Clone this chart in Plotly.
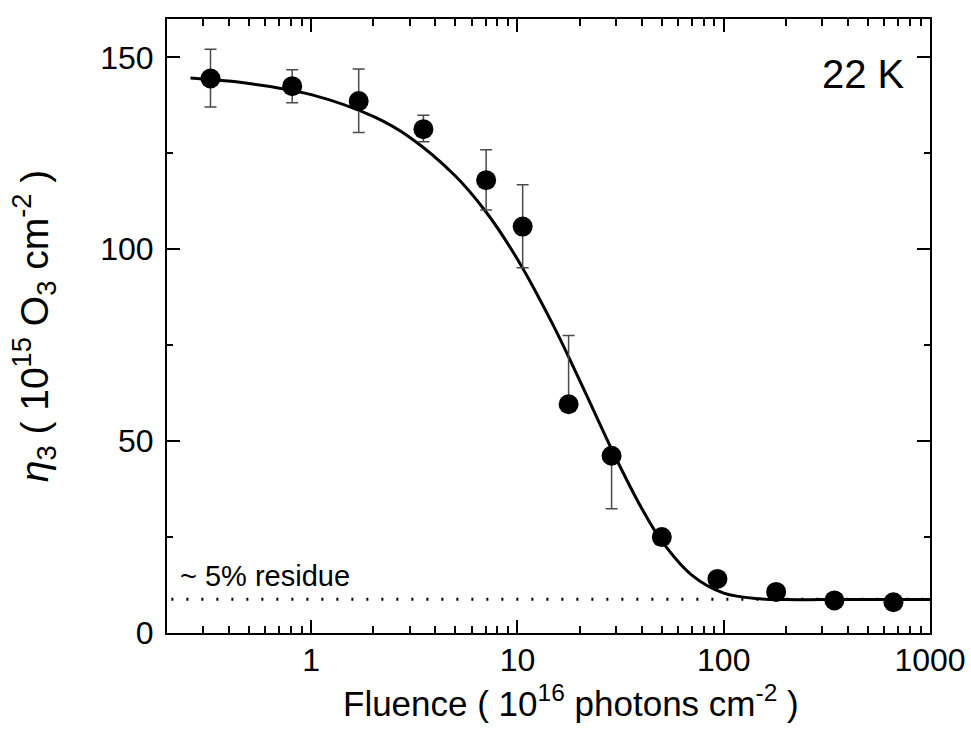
import plotly.graph_objects as go
import math

# Measured data (fluence in 1e16 photons cm^-2, eta3 in 1e15 O3 cm^-2)
fluence = [0.325, 0.809, 1.70, 3.50, 7.05, 10.6, 17.7, 28.6, 50.1, 93.2, 179.5, 344, 665]
eta3 = [144.5, 142.5, 138.6, 131.3, 118.0, 105.9, 59.6, 46.2, 25.0, 14.1, 10.7, 8.5, 8.0]
err_plus = [7.6, 4.3, 8.4, 3.6, 7.9, 10.9, 17.9, 0, 0, 0, 0, 0, 0]
err_minus = [7.4, 4.3, 8.2, 3.3, 7.8, 10.7, 0, 13.8, 0, 0, 0, 0, 0]

# Fit curve
fit_x = [0.26, 0.5, 1, 2, 3, 5, 7, 10, 15, 20, 30, 40, 50, 70, 100, 150, 200, 300, 500, 1000]
fit_y = [144.6, 143.2, 140.3, 134.6, 129.2, 119.1, 109.9, 97.4, 79.9, 65.9, 45.6, 32.5,
         24.0, 15.1, 10.4, 8.9, 8.7, 8.7, 8.7, 8.7]

# Residue level line
residue_x = [0.21, 1000]
residue_y = [8.8, 8.8]

x_tickvals = [1, 10, 100, 1000]
x_ticktext = ["1", "10", "100", "1000"]
y_tickvals = [0, 50, 100, 150]

FONT = "Arial, Liberation Sans, Helvetica, sans-serif"
X_RANGE = [math.log10(0.2), 3]

fig = go.Figure()

fig.add_trace(go.Scatter(
    x=residue_x, y=residue_y, mode="lines",
    line=dict(color="black", width=3, dash="2px,13px"),
    showlegend=False, hoverinfo="skip"))

fig.add_trace(go.Scatter(
    x=fit_x, y=fit_y, mode="lines",
    line=dict(color="black", width=3, shape="spline", smoothing=1.0),
    showlegend=False))

fig.add_trace(go.Scatter(
    x=fluence, y=eta3, mode="markers",
    marker=dict(color="black", size=20, symbol="circle"),
    error_y=dict(type="data", symmetric=False, array=err_plus, arrayminus=err_minus,
                 color="#4a4a4a", thickness=1.5, width=6),
    showlegend=False))

fig.add_annotation(x=0.970, y=0.910, xref="paper", yref="paper", xanchor="right", yanchor="middle",
                   text="22 K", showarrow=False, font=dict(family=FONT, size=40, color="black"))
fig.add_annotation(x=0.015, y=residue_y[0], xref="paper", yref="y", xanchor="left", yanchor="bottom",
                   yshift=5, text="~ 5% residue", showarrow=False,
                   font=dict(family=FONT, size=29, color="black"))
fig.add_annotation(x=0.5295, y=-0.1107, xref="paper", yref="paper", xanchor="center", yanchor="middle",
                   text="Fluence ( 10<sup>16</sup> photons cm<sup>-2</sup> )", showarrow=False,
                   font=dict(family=FONT, size=35, color="black"))

axis_common = dict(
    showline=True, linecolor="black", linewidth=2, mirror="allticks",
    ticks="inside", ticklen=13, tickwidth=2, tickcolor="black",
    showgrid=False, zeroline=False,
    tickfont=dict(family=FONT, size=32, color="black"),
)

fig.update_layout(
    xaxis=dict(type="log", range=X_RANGE,
               tickmode="array", tickvals=x_tickvals, ticktext=x_ticktext,
               minor=dict(ticks="inside", ticklen=7, tickwidth=2, tickcolor="black",
                          dtick="D1", showgrid=False),
               ticklabelstandoff=-2, **axis_common),
    yaxis=dict(range=[0, 160], tickmode="array", tickvals=y_tickvals,
               minor=dict(ticks="inside", ticklen=6, tickwidth=2, tickcolor="black",
                          dtick=25, showgrid=False),
               ticklabelstandoff=5,
               title=dict(text="<i>η</i><sub>3</sub> ( 10<sup>15</sup> O<sub>3</sub> cm<sup>-2</sup> )",
                          font=dict(family=FONT, size=39, color="black"), standoff=40),
               **axis_common),
    width=971, height=739,
    margin=dict(l=167, r=41, t=19, b=106, autoexpand=False),
    paper_bgcolor="white", plot_bgcolor="white",
    font=dict(family=FONT, color="black"),
)

fig.write_html("out.html", config={"displayModeBar": False},
               post_script="document.body.style.margin='0';")
